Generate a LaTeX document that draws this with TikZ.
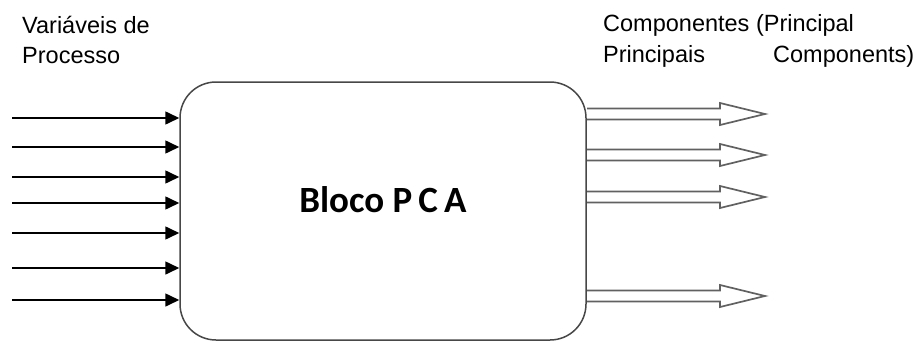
\documentclass[tikz,border=0pt]{standalone}
\usepackage{fontspec}
\setmainfont{Liberation Sans}
\newfontfamily\boxfont{Carlito}
\usetikzlibrary{arrows.meta}
\begin{document}
\begin{tikzpicture}[x=1pt,y=-1pt,
  inarrow/.style={line width=1.6pt,-{Triangle[length=14pt,width=13pt]}},
  outarrow/.style={draw=black!62,line width=1.7pt,fill=white,line join=miter},
  lbl/.style={font=\fontsize{23.5}{30}\selectfont,anchor=base west,inner sep=0pt}]
\useasboundingbox (0,0) rectangle (915,343);
\node[draw=black!72,line width=1.5pt,rounded corners=36pt,minimum width=406pt,minimum height=258pt,inner sep=0pt] (pca) at (383,211) {};
\node[font=\boxfont\bfseries\fontsize{37}{40}\selectfont,inner sep=0pt,anchor=base] (lab) at (383,212) {Bloco P\,C\,A};
\node[lbl] (inlab1) at (22,33) {Variáveis de};
\node[lbl] (inlab2) at (22,63) {Processo};
\node[lbl] (outlab1) at (603,31) {Componentes (Principal};
\node[lbl] (outlab2) at (603,62) {Principais};
\node[lbl] (outlab3) at (773,62) {Components)};
% input arrows
\foreach \i/\y in {1/118,2/147,3/177,4/203,5/233,6/268,7/300}{
  \coordinate (s\i) at (12,\y);
  \coordinate (t\i) at (pca.west |- s\i);
  \draw[inarrow] (s\i) -- (t\i);
}
% output arrows
\foreach \i/\y in {1/114,2/155,3/197,4/296}{
  \coordinate (o\i) at (587,\y);
  \draw[outarrow] (o\i) ++(0,-5.5) -- ++(133,0) -- ++(0,-5.5) -- ++(45,11) -- ++(-45,11) -- ++(0,-5.5) -- ++(-133,0);
}
\end{tikzpicture}
\end{document}
